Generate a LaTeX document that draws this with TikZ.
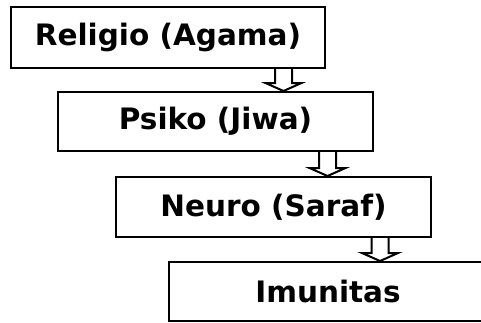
\documentclass[tikz,border=0pt]{standalone}
\usepackage{fontspec}
\setmainfont{DejaVu Sans}
\usetikzlibrary{calc}
\tikzset{
  stage/.style={draw=black, line width=2pt, minimum height=#1, inner sep=0pt,
    font=\fontsize{29.5}{34}\selectfont\bfseries},
  blockarr/.style={draw=black, line width=2pt, fill=white, line join=miter}
}
\newcommand{\hollowarrow}[3]{% from node, to node, x centre coordinate
  \draw[blockarr]
    ($(#1.south -| #3)+(-8.5,0)$) -- ($(#2.north -| #3)+(-8.5,-8)$) --
    ($(#2.north -| #3)+(-18,-8)$) -- (#2.north -| #3) --
    ($(#2.north -| #3)+(18,-8)$) -- ($(#2.north -| #3)+(8.5,-8)$) --
    ($(#1.south -| #3)+(8.5,0)$);
}
\begin{document}
\begin{tikzpicture}[x=1pt,y=-1pt]
\useasboundingbox (0,0) rectangle (481,322);
\clip (0,0) rectangle (481,322);
\node[stage=61pt, minimum width=314pt] (b1) at (168,37.5) {Religio (Agama)};
\node[stage=59pt, minimum width=315pt] (b2) at (215.5,121.5) {Psiko (Jiwa)};
\node[stage=60pt, minimum width=315pt] (b3) at (273.5,207) {Neuro (Saraf)};
\node[stage=59pt, minimum width=318pt] (b4) at (328,291.5) {Imunitas};
\coordinate (x1) at (283.5,0);
\coordinate (x2) at (327.5,0);
\coordinate (x3) at (380,0);
\hollowarrow{b1}{b2}{x1}
\hollowarrow{b2}{b3}{x2}
\hollowarrow{b3}{b4}{x3}
\end{tikzpicture}
\end{document}
